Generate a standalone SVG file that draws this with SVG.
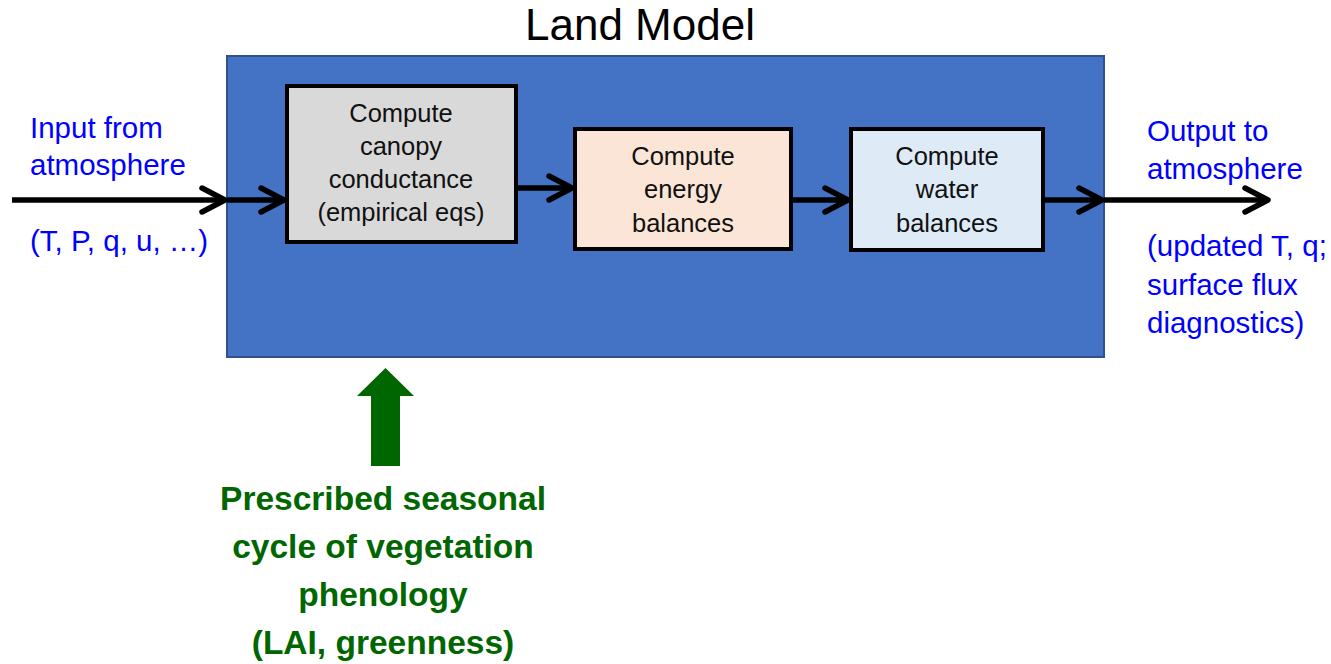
<svg xmlns="http://www.w3.org/2000/svg" width="1331" height="664" viewBox="0 0 1331 664">
  <style>
    .title { font-family: "Liberation Sans", Arial, sans-serif; font-size: 44px; fill: #000; }
    .blue { font-family: "Liberation Sans", Arial, sans-serif; font-size: 29.5px; fill: #0000FF; }
    .box { stroke: #000; stroke-width: 4; }
    .boxtxt { font-family: "Liberation Sans", Arial, sans-serif; font-size: 25.5px; fill: #111; text-anchor: middle; }
    .green { font-family: "Liberation Sans", Arial, sans-serif; font-size: 33.5px; font-weight: bold; fill: #006600; text-anchor: middle; }
    .flow { stroke: #000; stroke-width: 5.5; fill: none; marker-end: url(#chev); }
  </style>
  <defs>
    <marker id="chev" viewBox="-30 -16 34 32" markerWidth="34" markerHeight="32" refX="0" refY="0" markerUnits="userSpaceOnUse" orient="auto">
      <path d="M -23 -12 L 0 0 L -23 12" fill="none" stroke="#000" stroke-width="5.5" stroke-linecap="round" stroke-linejoin="round"/>
    </marker>
  </defs>

  <rect width="1331" height="664" fill="#fff"/>

  <!-- title -->
  <text class="title" x="640" y="40" text-anchor="middle">Land Model</text>

  <!-- land model container -->
  <g id="land-model">
    <rect x="227" y="56" width="877" height="301" fill="#4472C4" stroke="#2F528F" stroke-width="2"/>
  </g>

  <!-- inputs / outputs -->
  <g id="input-label">
    <text class="blue" x="30" y="138">Input from</text>
    <text class="blue" x="30" y="175">atmosphere</text>
    <text class="blue" x="30" y="251">(T, P, q, u, …)</text>
  </g>
  <g id="output-label">
    <text class="blue" x="1147" y="141">Output to</text>
    <text class="blue" x="1147" y="179">atmosphere</text>
    <text class="blue" x="1147" y="256">(updated T, q;</text>
    <text class="blue" x="1147" y="295">surface flux</text>
    <text class="blue" x="1147" y="333">diagnostics)</text>
  </g>

  <!-- process boxes -->
  <g id="canopy">
    <rect class="box" x="287" y="86" width="229" height="156" fill="#D9D9D9"/>
    <text class="boxtxt" x="401" y="122">Compute</text>
    <text class="boxtxt" x="401" y="155">canopy</text>
    <text class="boxtxt" x="401" y="188">conductance</text>
    <text class="boxtxt" x="401" y="221">(empirical eqs)</text>
  </g>
  <g id="energy">
    <rect class="box" x="575" y="129" width="216" height="120" fill="#FBE5D6"/>
    <text class="boxtxt" x="683" y="165">Compute</text>
    <text class="boxtxt" x="683" y="198">energy</text>
    <text class="boxtxt" x="683" y="232">balances</text>
  </g>
  <g id="water">
    <rect class="box" x="851" y="129" width="192" height="121" fill="#DEEBF7"/>
    <text class="boxtxt" x="947" y="165">Compute</text>
    <text class="boxtxt" x="947" y="198">water</text>
    <text class="boxtxt" x="947" y="232">balances</text>
  </g>

  <!-- connectors -->
  <g id="connectors">
    <line class="flow" x1="12" y1="200" x2="225" y2="200"/>
    <line class="flow" x1="227" y1="200" x2="284" y2="200"/>
    <line class="flow" x1="516" y1="188" x2="572" y2="188"/>
    <line class="flow" x1="791" y1="200" x2="848" y2="200"/>
    <line class="flow" x1="1043" y1="200" x2="1102" y2="200"/>
    <line class="flow" x1="1104" y1="200" x2="1268" y2="200"/>
  </g>

  <!-- phenology forcing -->
  <g id="phenology">
    <polygon points="371,466 400,466 400,396 414,396 385.5,368 357,396 371,396" fill="#006600"/>
    <text class="green" x="383" y="510">Prescribed seasonal</text>
    <text class="green" x="383" y="558">cycle of vegetation</text>
    <text class="green" x="383" y="606">phenology</text>
    <text class="green" x="383" y="654">(LAI, greenness)</text>
  </g>
</svg>
